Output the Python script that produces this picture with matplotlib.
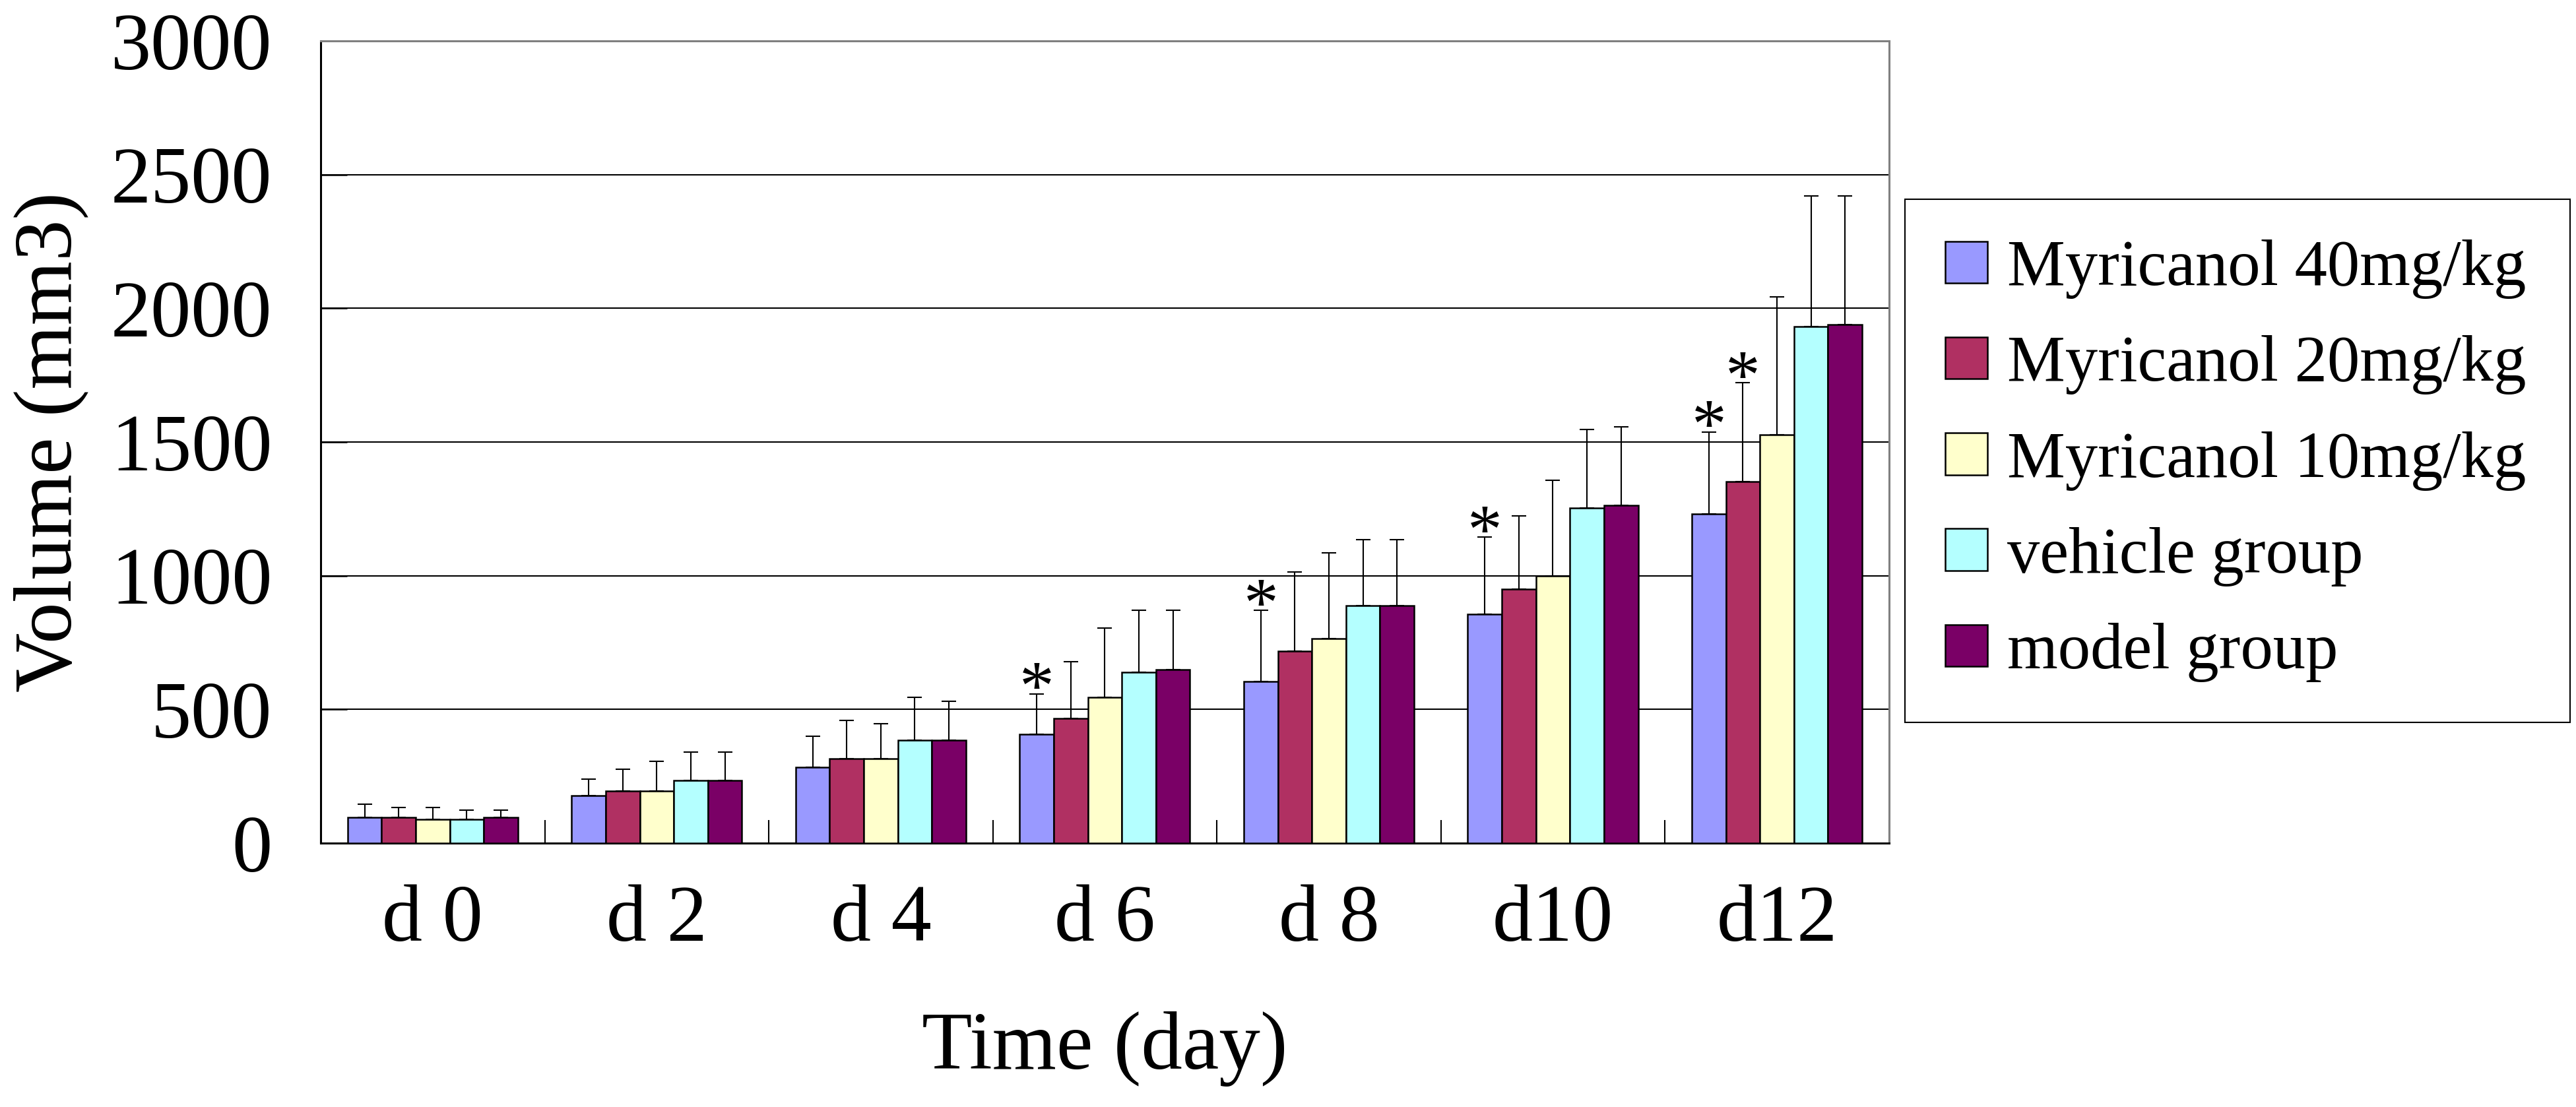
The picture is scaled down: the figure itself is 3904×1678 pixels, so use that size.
import numpy as np
import matplotlib
matplotlib.use("Agg")
import matplotlib.pyplot as plt

# data
days = ["d 0", "d 2", "d 4", "d 6", "d 8", "d10", "d12"]
groups = ["Myricanol 40mg/kg", "Myricanol 20mg/kg", "Myricanol 10mg/kg",
          "vehicle group", "model group"]
colors = ["#9999FF", "#B03062", "#FFFFCC", "#B4FFFF", "#7A0066"]

m40 = [95, 177, 283, 407, 605, 856, 1232]
m20 = [95, 196, 315, 465, 719, 949, 1351]
m10 = [88, 196, 315, 544, 764, 999, 1528]
veh = [88, 235, 386, 640, 888, 1253, 1932]
mod = [95, 235, 386, 648, 888, 1263, 1940]

sd40 = [50, 63, 116, 151, 265, 288, 306]
sd20 = [37, 79, 145, 214, 296, 275, 370]
sd10 = [44, 111, 132, 259, 322, 359, 515]
sdveh = [36, 106, 158, 232, 246, 293, 489]
sdmod = [29, 106, 145, 224, 246, 294, 481]

means = [m40, m20, m10, veh, mod]
sds = [sd40, sd20, sd10, sdveh, sdmod]

# significance marks: series index -> day indices
stars = {0: [3, 4, 5, 6], 1: [6]}

plt.rcParams['font.family'] = ['Liberation Serif', 'DejaVu Serif']

fig = plt.figure(figsize=(39.04, 16.78), dpi=100)
ax = fig.add_axes([0.1245, 0.2384, 0.6088, 0.7247])

x = np.arange(len(days))
w = 0.152
for i in range(len(groups)):
    pos = x + (i - 2) * w
    ax.bar(pos, means[i], width=w, color=colors[i], edgecolor="black",
           linewidth=1.8, label=groups[i], zorder=3)
    ax.errorbar(pos, means[i], yerr=[np.zeros(len(days)), sds[i]], fmt="none",
                ecolor="black", elinewidth=1.5, capsize=8, capthick=1.5, zorder=4)
    for j in stars.get(i, []):
        top = means[i][j] + sds[i][j]
        ax.annotate("*", (pos[j], top), xytext=(0, -17), textcoords="offset points",
                    ha="center", va="baseline", fontsize=76, zorder=5)

# 坐标轴
ax.set_xlim(-0.5, len(days) - 0.5)
ax.set_ylim(0, 3000)
ax.set_yticks(np.arange(0, 3001, 500))
ax.set_xticks(x)
ax.set_xticklabels(days)
ax.set_xticks(np.arange(-0.5, len(days)), minor=True)
ax.tick_params(axis="x", which="major", length=0, pad=45, labelsize=88)
ax.tick_params(axis="x", which="minor", direction="in", length=25, width=1.5, color="black")
ax.tick_params(axis="y", direction="in", length=29, width=1.8, pad=53, labelsize=88)

ax.yaxis.grid(True, color="black", linewidth=1.5, zorder=0)
ax.set_axisbelow(True)
glines = ax.get_ygridlines()
glines[0].set_visible(False)
glines[-1].set_visible(False)

for s in ["left", "bottom"]:
    ax.spines[s].set_color("black")
    ax.spines[s].set_linewidth(2.2)
for s in ["top", "right"]:
    ax.spines[s].set_color("#808080")
    ax.spines[s].set_linewidth(2.2)

ax.set_xlabel("Time (day)", fontsize=90)
ax.set_ylabel("Volume (mm3)", fontsize=90)
ax.xaxis.set_label_coords(0.5, -0.21)
ax.yaxis.set_label_coords(-0.148, 0.5)

leg = fig.legend(loc="upper left", bbox_to_anchor=(0.7395, 0.3486, 0.2582, 0.4714),
                 mode="expand", fontsize=71, frameon=True, fancybox=False,
                 edgecolor="black", framealpha=1, handlelength=0.65,
                 handleheight=0.61, handletextpad=0.3, labelspacing=0.56,
                 borderpad=0.62, borderaxespad=0)
leg.get_frame().set_linewidth(1.5)

fig.savefig("out.png", dpi=100)
